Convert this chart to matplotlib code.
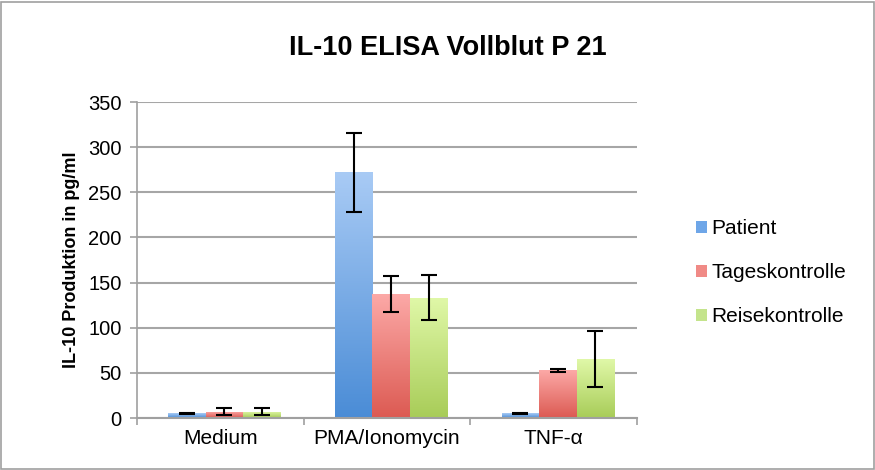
import numpy as np
import matplotlib
matplotlib.use("Agg")
import matplotlib.pyplot as plt
from matplotlib.colors import LinearSegmentedColormap

plt.rcParams['font.family'] = ['Liberation Sans', 'DejaVu Sans']

categories = ["Medium", "PMA/Ionomycin", "TNF-α"]
series = ["Patient", "Tageskontrolle", "Reisekontrolle"]
patient = [5, 272, 5]
patient_err = [1, 44, 0.5]
tages = [7, 137, 53]
tages_err = [4, 20, 1.5]
reise = [7, 133, 65]
reise_err = [4, 25, 31]

values = [patient, tages, reise]
errors = [patient_err, tages_err, reise_err]
top_colors = ["#a9cbf5", "#fca9a7", "#e0f8a8"]
bot_colors = ["#4a8cd6", "#dc5a52", "#a8cc58"]
legend_colors = ["#6ea6e8", "#f08a86", "#c4e48c"]

fig = plt.figure(figsize=(8.75, 4.7), dpi=100)
ax = fig.add_axes([137/875, 1-418/470, 500/875, 316/470])

x = np.arange(len(categories))
w = 0.225
for i, (vals, errs) in enumerate(zip(values, errors)):
    pos = x + (i - 1) * w + 0.025
    bars = ax.bar(pos, vals, w, color=legend_colors[i], label=series[i], zorder=2)
    cmap = LinearSegmentedColormap.from_list("g%d" % i, [bot_colors[i], top_colors[i]])
    for b in bars:
        bx, by = b.get_x(), b.get_y()
        bw, bh = b.get_width(), b.get_height()
        grad = np.linspace(0, 1, 256).reshape(-1, 1)
        im = ax.imshow(grad, extent=[bx, bx + bw, by, by + bh], origin="lower",
                       cmap=cmap, aspect="auto", zorder=2.5)
        im.set_clip_path(b)
    ax.errorbar(pos, vals, yerr=errs, fmt="none", ecolor="black", elinewidth=1.5,
                capsize=6, capthick=1.5, zorder=4)

ax.set_xlim(-0.5, 2.5)
ax.set_ylim(0, 350)
ax.set_yticks(np.arange(0, 351, 50))
ax.set_xticks(x)
ax.set_xticklabels(categories, fontsize=15)
ax.set_xticks([-0.5, 0.5, 1.5, 2.5], minor=True)
ax.tick_params(axis="x", which="major", length=0, pad=8)
ax.tick_params(axis="x", which="minor", length=5, color="#a0a0a0", width=1.2)
ax.tick_params(axis="y", length=5, color="#a0a0a0", width=1.2, labelsize=14.5, pad=6)
ax.grid(axis="y", color="#a6a6a6", linewidth=1.5, zorder=0)
ax.set_axisbelow(True)
for s in ["top", "right"]:
    ax.spines[s].set_visible(False)
ax.spines["left"].set_color("#a0a0a0")
ax.spines["left"].set_linewidth(1.2)
ax.spines["bottom"].set_color("#a0a0a0")
ax.spines["bottom"].set_linewidth(1.5)

ax.set_ylabel("IL-10 Produktion in pg/ml", fontsize=13, fontweight="bold", labelpad=6)
fig.text(448/875, 1 - 48/470, "IL-10 ELISA Vollblut P 21", ha="center", va="center",
         fontsize=19.5, fontweight="bold")

leg = ax.legend(loc="center left", bbox_to_anchor=(1.098, 0.46), frameon=False,
                fontsize=15, handlelength=0.5, handleheight=0.5, handletextpad=0.2,
                labelspacing=1.2, borderpad=0)

fig.add_artist(plt.Rectangle((1/875, 1/470), 873/875, 467/470, transform=fig.transFigure,
                             fill=False, edgecolor="#a0a0a0", linewidth=1.2))

fig.savefig("out.png", dpi=100)
